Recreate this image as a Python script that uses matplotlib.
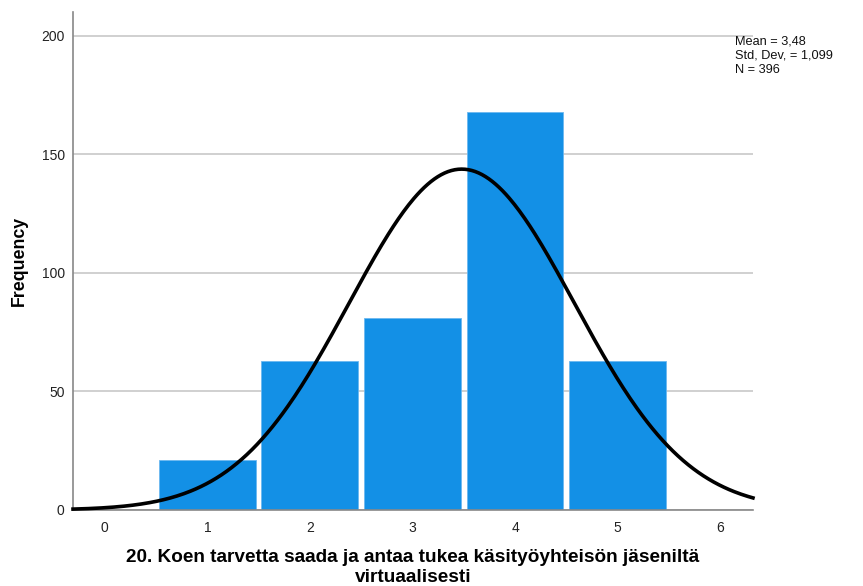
import numpy as np
import matplotlib.pyplot as plt

plt.rcParams['font.family'] = ['Liberation Sans', 'DejaVu Sans']

# frequencies per answer value
values = [1, 2, 3, 4, 5]
counts = [21, 63, 81, 168, 63]
mean, sd, n = 3.48, 1.099, 396

x_ticks = [0, 1, 2, 3, 4, 5, 6]
y_ticks = [0, 50, 100, 150, 200]

fig = plt.figure(figsize=(8.63, 5.86), dpi=100)
ax = fig.add_axes([0.0846, 0.1297, 0.7879, 0.8498])

ax.set_axisbelow(True)
ax.yaxis.grid(True, color='#c8c8c8', linewidth=1.2)
ax.bar(values, counts, width=0.945, color='#1390e6', edgecolor='#6cb8f0', linewidth=0.6)

# fitted normal curve scaled to counts
xs = np.linspace(-0.31, 6.32, 400)
ys = n * np.exp(-0.5 * ((xs - mean) / sd) ** 2) / (sd * np.sqrt(2 * np.pi))
ax.plot(xs, ys, color='black', linewidth=2.6, clip_on=False, zorder=3)

ax.set_xlim(-0.31, 6.32)
ax.set_ylim(0, 210)
ax.set_xticks(x_ticks)
ax.set_yticks(y_ticks)
ax.tick_params(length=0, labelsize=10, colors='#222222', pad=8)
ax.tick_params(axis='y', pad=6)

for side in ['top', 'right']:
    ax.spines[side].set_visible(False)
for side in ['left', 'bottom']:
    ax.spines[side].set_color('#888888')
    ax.spines[side].set_linewidth(1.2)

ax.set_ylabel('Frequency', fontsize=12.8, fontweight='bold', labelpad=10)
ax.set_xlabel('20. Koen tarvetta saada ja antaa tukea käsityöyhteisön jäseniltä\nvirtuaalisesti',
              fontsize=13.7, fontweight='bold', linespacing=1.2, labelpad=10)

fig.text(735 / 863, 1 - 36 / 586,
         f'Mean = {mean:.2f}'.replace('.', ',') + '\n'
         + f'Std. Dev. = {sd:.3f}'.replace('.', ',') + f'\nN = {n}',
         fontsize=9.2, va='top', ha='left', linespacing=1.2, color='#111111')

fig.savefig('out.png', dpi=100)
